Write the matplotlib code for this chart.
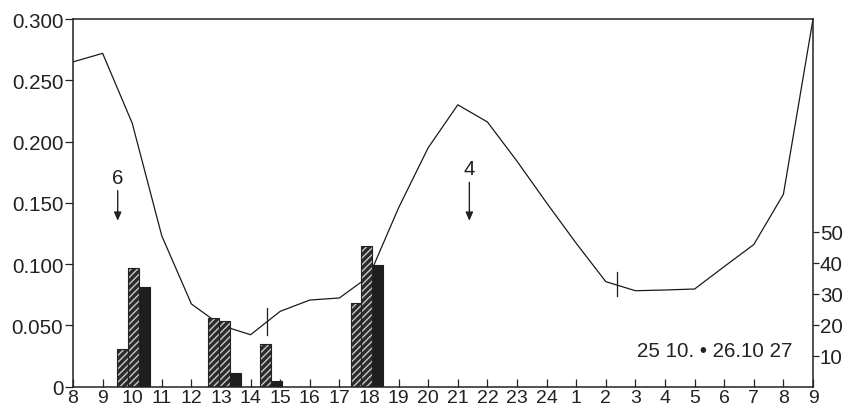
import matplotlib.pyplot as plt

plt.rcParams["font.family"] = ["Liberation Sans", "DejaVu Sans"]

# hours along the x axis (25 10. 8h -> 26 10. 9h)
hour_labels = [str(h) for h in range(8, 25)] + [str(h) for h in range(1, 10)]
hour_pos = list(range(len(hour_labels)))

# line (left axis)
line_values = [0.265, 0.272, 0.215, 0.123, 0.0675, 0.050, 0.0424, 0.0615,
               0.0707, 0.0724, 0.090, 0.146, 0.195, 0.230, 0.216, 0.184,
               0.150, 0.117, 0.0857, 0.0783, 0.0789, 0.0797, 0.098, 0.116,
               0.157, 0.300]

# bars (left axis), groups centred near 10, 13, 14.5 and 18 h
group_pos = [2.04, 5.13, 6.49, 9.93]
bars_a = [0.031, 0.056, 0.0, 0.068]
bars_b = [0.097, 0.054, 0.035, 0.115]
bars_c = [0.081, 0.011, 0.005, 0.099]

left_ticks = [0, 0.05, 0.10, 0.15, 0.20, 0.25, 0.30]
left_labels = ["0", "0.050", "0.100", "0.150", "0.200", "0.250", "0.300"]
right_ticks = [10, 20, 30, 40, 50]

fs = 14.8

fig = plt.figure(figsize=(8.46, 4.10), dpi=100)
ax = fig.add_axes([0.0863, 0.0544, 0.8747, 0.8968])

ax.plot(hour_pos, line_values, color="#1a1a1a", lw=0.9, zorder=1)

w = 0.37
for series, off, hatched in [(bars_a, -w, True), (bars_b, 0.0, True), (bars_c, w, False)]:
    xs = [g + off for g in group_pos]
    if hatched:
        ax.bar(xs, series, width=w, color="#2b2b2b", edgecolor="#c8c8c8",
               hatch="/////", lw=0, zorder=2)
        ax.bar(xs, series, width=w, fill=False, edgecolor="#222222", lw=0.8, zorder=3)
    else:
        ax.bar(xs, series, width=w, color="#1e1e1e", edgecolor="#1e1e1e", lw=0.8, zorder=2)

# small vertical marks on the line
ax.plot([6.54, 6.54], [0.0418, 0.0644], color="#1a1a1a", lw=0.9, zorder=4)
ax.plot([18.37, 18.37], [0.0738, 0.0933], color="#1a1a1a", lw=0.9, zorder=4)

# arrows with labels
for x, label, y0 in [(1.51, "6", 0.160), (13.39, "4", 0.1668)]:
    ax.text(x, y0 + 0.011, label, ha="center", va="center", fontsize=fs, color="#222222")
    ax.annotate("", xy=(x, 0.1354), xytext=(x, y0),
                arrowprops=dict(arrowstyle="-|>,head_width=0.22,head_length=0.5",
                                color="#222222", lw=1.0, shrinkA=0, shrinkB=0))

ax.text(24.3, 0.0294, "25 10. \u2022 26.10 27", ha="right", va="center",
        fontsize=fs, color="#222222")

ax.set_xlim(0, 25)
ax.set_ylim(0, 0.30)
ax.set_xticks(hour_pos)
ax.set_xticklabels(hour_labels)
ax.set_yticks(left_ticks)
ax.set_yticklabels(left_labels)
ax.tick_params(axis="x", direction="in", length=6, width=0.9, pad=2, labelsize=14,
               colors="#222222")
ax.tick_params(axis="y", direction="out", length=6, width=0.9, pad=1, labelsize=fs,
               colors="#222222")
for s in ax.spines.values():
    s.set_linewidth(1.1)
    s.set_color("#222222")

ax2 = ax.twinx()
ax2.set_ylim(0, 118.7)
ax2.set_yticks(right_ticks)
ax2.tick_params(axis="y", direction="out", length=4, width=0.9, pad=1, labelsize=fs,
                colors="#222222")
for s in ax2.spines.values():
    s.set_visible(False)

fig.savefig("out.png", dpi=100)
